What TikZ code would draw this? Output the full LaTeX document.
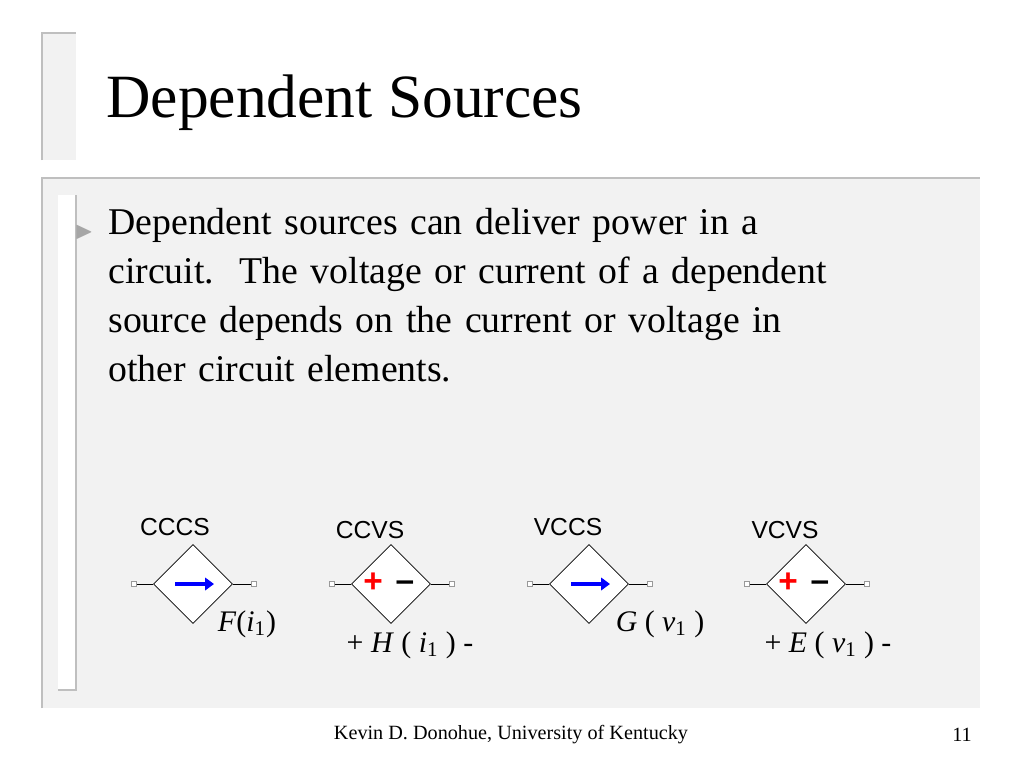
\documentclass[tikz,border=0pt]{standalone}
\usepackage{amssymb}
\usepackage{fontspec}
\setmainfont{Liberation Serif}
\newfontfamily\arialfont{Liberation Sans}
\usetikzlibrary{shapes.geometric,arrows.meta}

\begin{document}
\begin{tikzpicture}[x=0.02cm,y=-0.02cm,
  panel/.style={fill=black!5,draw=none},
  edge/.style={draw=black!25,line width=1.2pt},
  source/.style={diamond,draw,fill=white,minimum width=79*0.02cm,minimum height=79*0.02cm,inner sep=0pt},
  lead/.style={draw,line width=0.5pt},
  term/.style={draw=black!40,fill=white,minimum size=3pt,inner sep=0pt},
  kind/.style={font=\arialfont\fontsize{14}{14}\selectfont},
  gain/.style={font=\fontsize{17}{17}\selectfont}]

  \useasboundingbox (0,0) rectangle (1024,768);
  \fill[white] (0,0) rectangle (1024,768);

  % title bar
  \fill[black!5] (42,33) rectangle (76,160);
  \draw[edge] (42,160) -- (42,33) -- (76,33);
  \node[anchor=west,inner sep=0pt,font=\fontsize{35}{35}\selectfont] (title) at (106,103) {Dependent Sources};

  % content panel
  \fill[panel] (42,178) rectangle (980,708);
  \draw[edge] (42,708) -- (42,178) -- (980,178);
  \fill[white] (58,195) rectangle (76,690);
  \draw[edge] (76,195) -- (76,690) -- (58,690);

  \node[text=black!35,font=\fontsize{14}{14}\selectfont] (bullet) at (84,232) {$\blacktriangleright$};
  \node[anchor=north west,align=left,text width=760*0.02cm,inner sep=0pt,
        font=\fontsize{21.5}{27.8}\selectfont] (body) at (108,208)
    {Dependent sources can deliver power in a\\
     circuit.\ \ The voltage or current of a dependent\\
     source depends on the current or voltage in\\
     other circuit elements.};

  % sources
  \foreach \nm/\cx in {cccs/193,ccvs/391,vccs/589,vcvs/806} {
    \node[source] (\nm) at (\cx,584) {};
    \node[term] (\nm l) at (\cx-59,584) {};
    \node[term] (\nm r) at (\cx+61,584) {};
    \draw[lead] (\nm l) -- (\nm.west);
    \draw[lead] (\nm.east) -- (\nm r);
  }
  \foreach \nm in {cccs,vccs}
    \draw[blue,line width=2.2pt,-{Triangle[open,fill=blue,length=5pt,width=7pt]}] ([xshift=-0.36cm]\nm.center) -- ([xshift=0.42cm]\nm.center);
  \foreach \nm in {ccvs,vcvs} {
    \node[text=red,font=\arialfont\bfseries\fontsize{19}{19}\selectfont] at ([xshift=-0.36cm,yshift=0.02cm]\nm.center) {+};
    \node[font=\arialfont\bfseries\fontsize{19}{19}\selectfont] at ([xshift=0.28cm,yshift=-0.04cm]\nm.center) {\textendash};
  }

  \node[kind] (cccsk) at (175,527) {CCCS};
  \node[kind] (ccvsk) at (370,530) {CCVS};
  \node[kind] (vccsk) at (568,527) {VCCS};
  \node[kind] (vcvsk) at (785,530) {VCVS};

  \node[gain] (cccsg) at (247,624) {\textit{F}(\textit{i}\textsubscript{1})};
  \node[gain] (ccvsg) at (410,645) {+ \textit{H} ( \textit{i}\textsubscript{1} ) -};
  \node[gain] (vccsg) at (660,624) {\textit{G} ( \textit{v}\textsubscript{1} )};
  \node[gain] (vcvsg) at (828,645) {+ \textit{E} ( \textit{v}\textsubscript{1} ) -};

  % footer
  \node[font=\fontsize{11.5}{11.5}\selectfont] (foot) at (511,735) {Kevin D. Donohue, University of Kentucky};
  \node[font=\fontsize{11.5}{11.5}\selectfont] (page) at (962,735) {11};
\end{tikzpicture}
\end{document}
